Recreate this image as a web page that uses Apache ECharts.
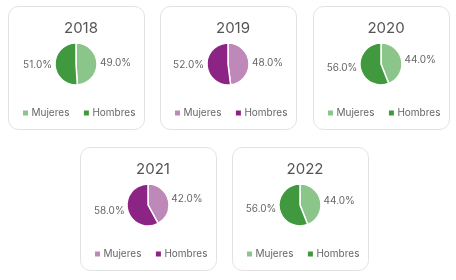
<!DOCTYPE html>
<html><head><meta charset="utf-8">
<script src="https://cdn.jsdelivr.net/npm/echarts@6/dist/echarts.min.js"></script>
<style>html,body{margin:0;padding:0;background:#fff}#c{width:456px;height:280px}</style>
</head><body><div id="c"></div>
<script>
const years = ['2018','2019','2020','2021','2022'];
const mujeres = [49.0, 48.0, 44.0, 42.0, 44.0];
const hombres = [51.0, 52.0, 56.0, 58.0, 56.0];
const categories = ['Mujeres','Hombres'];

const greens = ['#8BC58A','#41993F'];
const purples = ['#BE88B8','#8C2486'];
const palettes = [greens, purples, greens, purples, greens];
const cards = [
  {x:8,y:6},{x:160,y:6},{x:313,y:6},{x:80,y:147},{x:232,y:147}
];
const W = 136, H = 123;
const FONT = 'Inter, "Noto Sans", sans-serif';
const LEG_FS = 10;

const ctx = document.createElement('canvas').getContext('2d');
ctx.font = LEG_FS + 'px ' + FONT;
const iconW = 7, textGap = 2.5, itemGap = 10;
const legendWidth = categories.reduce((s, n) => s + iconW + textGap + ctx.measureText(n).width, 0) + itemGap * (categories.length - 1);

const chart = echarts.init(document.getElementById('c'), null, {renderer:'canvas'});
const graphic = [], title = [], legend = [], series = [];
years.forEach((yr, i) => {
  const c = cards[i];
  const cx = c.x + W/2;
  graphic.push({type:'rect', shape:{x:c.x+0.5, y:c.y+0.5, width:W, height:H, r:10},
    style:{fill:'#fff', stroke:'#E2E2E2', lineWidth:1}, z:-1});
  title.push({text: yr, left: cx, top: c.y + 10, textAlign:'center',
    textStyle:{fontFamily:FONT, fontSize:15, fontWeight:'normal', color:'#555'}});
  const names = categories.map(n => n + '_' + yr);
  legend.push({data: names, left: Math.round(cx - legendWidth/2), top: c.y + 102, orient:'horizontal',
    padding:0, itemWidth:iconW, itemHeight:7, itemGap:itemGap + 2.5, icon:'rect',
    textStyle:{fontFamily:FONT, fontSize:LEG_FS, color:'#666', padding:[0,0,0,-2.5]},
    formatter: n => n.split('_')[0]});
  series.push({type:'pie', radius:21, center:[cx, c.y + 58], startAngle:90, clockwise:true,
    silent:true, animation:false,
    itemStyle:{borderColor:'#fff', borderWidth:1.5},
    label:{show:true, position:'outside', fontFamily:FONT, fontSize:10, color:'#666',
      overflow:'none', edgeDistance:0, distanceToLabelLine:1,
      formatter: p => p.value.toFixed(1) + '%'},
    labelLine:{show:false, length:2, length2:0},
    data:[
      {name:names[0], value:mujeres[i], itemStyle:{color:palettes[i][0]}},
      {name:names[1], value:hombres[i], itemStyle:{color:palettes[i][1]}}
    ]});
});
chart.setOption({animation:false, graphic, title, legend, series});
</script></body></html>
